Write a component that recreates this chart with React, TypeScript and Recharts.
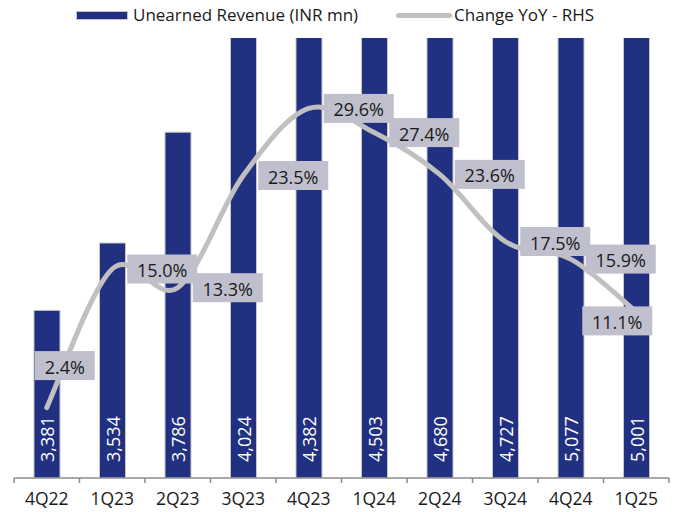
import React from "react";
import { ComposedChart, Bar, Line, XAxis, YAxis, LabelList } from "recharts";

// Values.
const QUARTERS = ["4Q22", "1Q23", "2Q23", "3Q23", "4Q23", "1Q24", "2Q24", "3Q24", "4Q24", "1Q25"];
const UNEARNED_REVENUE = [3381, 3534, 3786, 4024, 4382, 4503, 4680, 4727, 5077, 5001];
const CHANGE_YOY = [2.4, 15.0, 13.3, 23.5, 29.6, 27.4, 23.6, 17.5, 15.9, 11.1];

const data = QUARTERS.map((q, i) => ({ q, rev: UNEARNED_REVENUE[i], yoy: CHANGE_YOY[i] }));

const W = 676;
const H = 512;
const M = { top: 38, right: 7, bottom: 4, left: 14 };
const X_AXIS_H = 30;
const AXIS_Y = H - M.bottom - X_AXIS_H;
const BAND = (W - M.left - M.right) / QUARTERS.length;

const NAVY = "#213080";
const GREY_LINE = "#c0c0c0";
const BOX = "#bfbfcd";
const TEXT = "#1a1a1a";
const FONT = "'Open Sans', sans-serif";

// Excel-style smoothed line (Catmull-Rom through every point).
function excelSmooth(context: any) {
  let pts: [number, number][] = [];
  return {
    areaStart() {},
    areaEnd() {},
    lineStart() {
      pts = [];
    },
    lineEnd() {
      const n = pts.length;
      if (!n) return;
      context.moveTo(pts[0][0], pts[0][1]);
      for (let i = 0; i < n - 1; i++) {
        const p0 = pts[Math.max(i - 1, 0)];
        const p1 = pts[i];
        const p2 = pts[i + 1];
        const p3 = pts[Math.min(i + 2, n - 1)];
        context.bezierCurveTo(
          p1[0] + (p2[0] - p0[0]) / 6,
          p1[1] + (p2[1] - p0[1]) / 6,
          p2[0] - (p3[0] - p1[0]) / 6,
          p2[1] - (p3[1] - p1[1]) / 6,
          p2[0],
          p2[1]
        );
      }
    },
    point(x: number, y: number) {
      pts.push([+x, +y]);
    },
  };
}

const textWidth = (s: string) =>
  [...s].reduce((w, c) => w + (c === "." ? 5 : c === "%" ? 15 : 10), 0);

function PctLabel(props: any) {
  const { x, y, value, index } = props;
  const label = `${Number(value).toFixed(1)}%`;
  const w = textWidth(label) + 20;
  const h = 29;
  // default: right of the point; first sits above, last tucks in below-left
  let cx = x + 15 + w / 2;
  let cy = y;
  if (index === 0) {
    cx = x + 18;
    cy = y - 42;
  } else if (index === QUARTERS.length - 1) {
    cx = x - 19;
    cy = y + 9;
  }
  return (
    <g>
      <rect x={cx - w / 2} y={cy - h / 2} width={w} height={h} fill={BOX} />
      <text
        x={cx}
        y={cy + 1}
        textAnchor="middle"
        dominantBaseline="central"
        fontSize={18}
        fontFamily={FONT}
        fill={TEXT}
      >
        {label}
      </text>
    </g>
  );
}

function BarValue(props: any) {
  const { x, width, value } = props;
  const cx = x + width / 2;
  const by = AXIS_Y - 16;
  return (
    <text
      x={cx}
      y={by}
      transform={`rotate(-90 ${cx} ${by})`}
      textAnchor="start"
      dominantBaseline="central"
      fontSize={18}
      fontFamily={FONT}
      fill="#ffffff"
    >
      {Number(value).toLocaleString("en-US")}
    </text>
  );
}

function QuarterTick(props: any) {
  const { x, payload, index } = props;
  const left = x - BAND / 2;
  const right = x + BAND / 2;
  return (
    <g>
      <line x1={left} x2={left} y1={AXIS_Y} y2={AXIS_Y + 5} stroke="#8c8c8c" strokeWidth={1.5} />
      {index === QUARTERS.length - 1 && (
        <line x1={right} x2={right} y1={AXIS_Y} y2={AXIS_Y + 5} stroke="#8c8c8c" strokeWidth={1.5} />
      )}
      <text x={x} y={AXIS_Y + 27} textAnchor="middle" fontSize={17.5} fontFamily={FONT} fill={TEXT}>
        {payload.value}
      </text>
    </g>
  );
}

function ChartLegend() {
  return (
    <div
      style={{
        position: "absolute",
        top: 3,
        left: 76,
        display: "flex",
        alignItems: "center",
        fontFamily: FONT,
        fontSize: 17,
        color: TEXT,
        lineHeight: "24px",
      }}
    >
      <span
        style={{
          width: 50,
          height: 7,
          background: NAVY,
          border: "1px solid #c4c4c4",
          marginRight: 5,
        }}
      />
      <span>Unearned Revenue (INR mn)</span>
      <span
        style={{
          width: 56,
          height: 5,
          borderRadius: 3,
          background: GREY_LINE,
          marginLeft: 38,
          marginRight: 2,
        }}
      />
      <span>Change YoY - RHS</span>
    </div>
  );
}

export default function App() {
  return (
    <div style={{ position: "relative", width: W, height: H }}>
      <style>{"body{margin:0}"}</style>
      <ComposedChart width={W} height={H} data={data} margin={M}>
        <XAxis
          dataKey="q"
          height={X_AXIS_H}
          axisLine={{ stroke: "#8c8c8c", strokeWidth: 1.5 }}
          tickLine={false}
          tick={<QuarterTick />}
          interval={0}
        />
        <YAxis yAxisId="rev" domain={[3000, 4000]} allowDataOverflow hide />
        <YAxis yAxisId="yoy" orientation="right" domain={[-4, 36]} allowDataOverflow hide />
        <Bar
          yAxisId="rev"
          dataKey="rev"
          barSize={26}
          fill={NAVY}
          stroke="#c6c6c6"
          strokeWidth={1}
          isAnimationActive={false}
        >
          <LabelList dataKey="rev" content={<BarValue />} />
        </Bar>
        <Line
          yAxisId="yoy"
          dataKey="yoy"
          type={excelSmooth as any}
          stroke={GREY_LINE}
          strokeWidth={5}
          strokeLinecap="round"
          dot={false}
          activeDot={false}
          isAnimationActive={false}
        >
          <LabelList dataKey="yoy" content={<PctLabel />} />
        </Line>
      </ComposedChart>
      <ChartLegend />
    </div>
  );
}
